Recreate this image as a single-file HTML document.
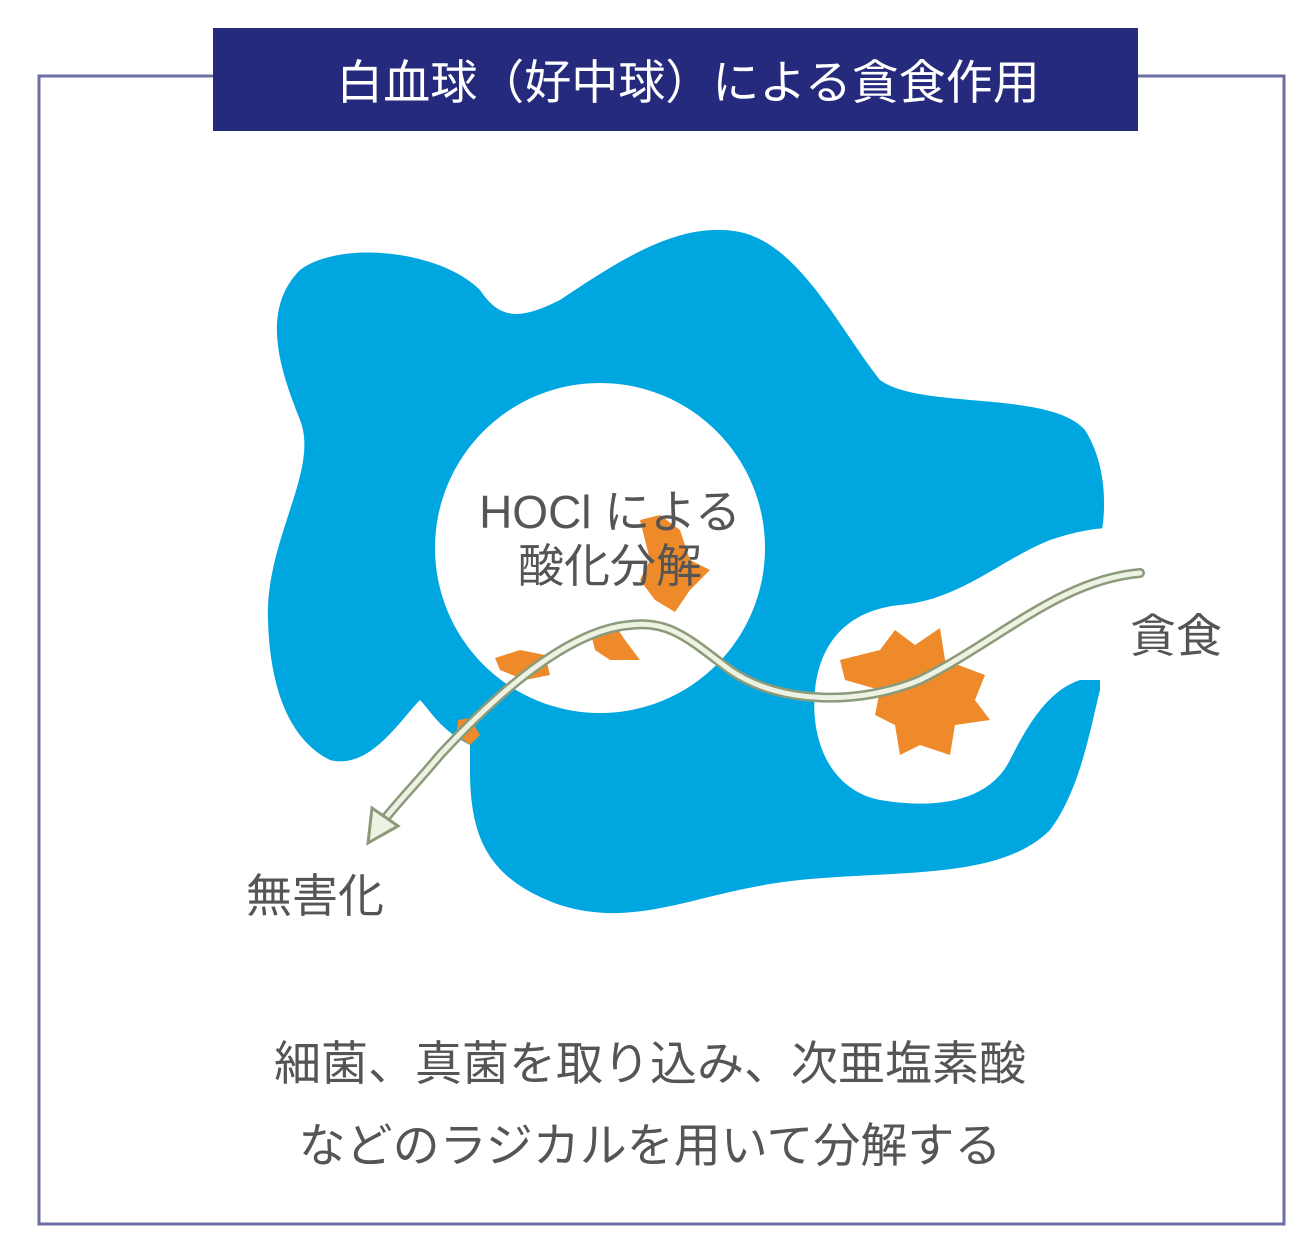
<!DOCTYPE html>
<html><head><meta charset="utf-8"><style>
html,body{margin:0;padding:0;background:#fff;}
body{width:1300px;height:1245px;position:relative;overflow:hidden;font-family:"Liberation Sans","Noto Sans CJK JP",sans-serif;}
</style></head><body>
<svg width="1300" height="1245" viewBox="0 0 1300 1245" xmlns="http://www.w3.org/2000/svg" style="position:absolute;left:0;top:0">
<rect x="39" y="76" width="1245" height="1148" fill="none" stroke="#6d6fa6" stroke-width="3"/>
<rect x="213" y="28" width="925" height="103" fill="#252a7c"/>
<text x="688" y="99" text-anchor="middle" font-size="47" fill="#fff" font-family="'Liberation Sans','Noto Sans CJK JP',sans-serif">白血球（好中球）による貪食作用</text>
<path fill="#00a6e0" d="M300,270 C340,240 440,250 480,290 C500,320 520,320 560,300 C620,260 680,220 740,232 C800,245 840,330 880,380 C920,410 1050,390 1085,430 C1110,470 1105,520 1100,540 L1100,690 C1090,730 1080,790 1050,830 C1000,880 900,870 800,880 C700,890 640,930 560,905 C490,880 470,840 470,770 L470,745 C440,730 430,710 420,700 C400,720 370,770 330,760 C290,740 270,690 268,620 C265,540 320,470 300,420 C280,370 260,310 300,270 Z"/>
<circle cx="600" cy="548" r="165" fill="#fff"/>
<path fill="#fff" d="M1110,528 L1110,680 L1080,680 C1050,690 1030,720 1010,760 C990,800 940,810 880,800 C830,790 810,740 815,690 C820,640 850,610 900,605 C960,600 1000,560 1050,540 C1080,530 1100,528 1110,528 Z"/>
<g fill="#ee8a2a">
<path d="M840,660 L880,650 L895,630 L915,645 L940,628 L945,660 L985,675 L975,700 L990,720 L955,725 L950,755 L920,745 L900,755 L895,725 L875,715 L880,690 L845,680 Z"/>
<path d="M640,520 L660,515 L680,530 L690,560 L710,570 L690,590 L675,612 L655,600 L640,580 L650,560 Z"/>
<path d="M590,630 L615,625 L625,640 L640,660 L610,660 L595,650 Z"/>
<path d="M495,658 L520,650 L545,655 L550,675 L525,680 L500,670 Z"/>
<path d="M458,720 L470,718 L480,735 L470,745 L456,735 Z"/>
</g>
<path d="M1140,573 C1060,580 1000,640 920,680 C860,705 780,705 730,670 C690,640 670,620 630,625 C570,630 500,690 440,755 C415,785 395,805 380,825" fill="none" stroke="#8a9a7a" stroke-width="10" stroke-linecap="round"/>
<path d="M1140,573 C1060,580 1000,640 920,680 C860,705 780,705 730,670 C690,640 670,620 630,625 C570,630 500,690 440,755 C415,785 395,805 380,825" fill="none" stroke="#eef2e2" stroke-width="5" stroke-linecap="round"/>
<path d="M368,843 L372,808 L398,826 Z" fill="#eef2e2" stroke="#8a9a7a" stroke-width="3"/>
<g font-family="'Liberation Sans','Noto Sans CJK JP',sans-serif" fill="#555" font-size="46">
<text x="610" y="528" text-anchor="middle">HOCl による</text>
<text x="610" y="582" text-anchor="middle">酸化分解</text>
<text x="1176" y="652" text-anchor="middle">貪食</text>
<text x="315" y="912" text-anchor="middle">無害化</text>
<text x="650" y="1080" text-anchor="middle" font-size="47">細菌、真菌を取り込み、次亜塩素酸</text>
<text x="650" y="1162" text-anchor="middle" font-size="47">などのラジカルを用いて分解する</text>
</g>
</svg>
</body></html>
